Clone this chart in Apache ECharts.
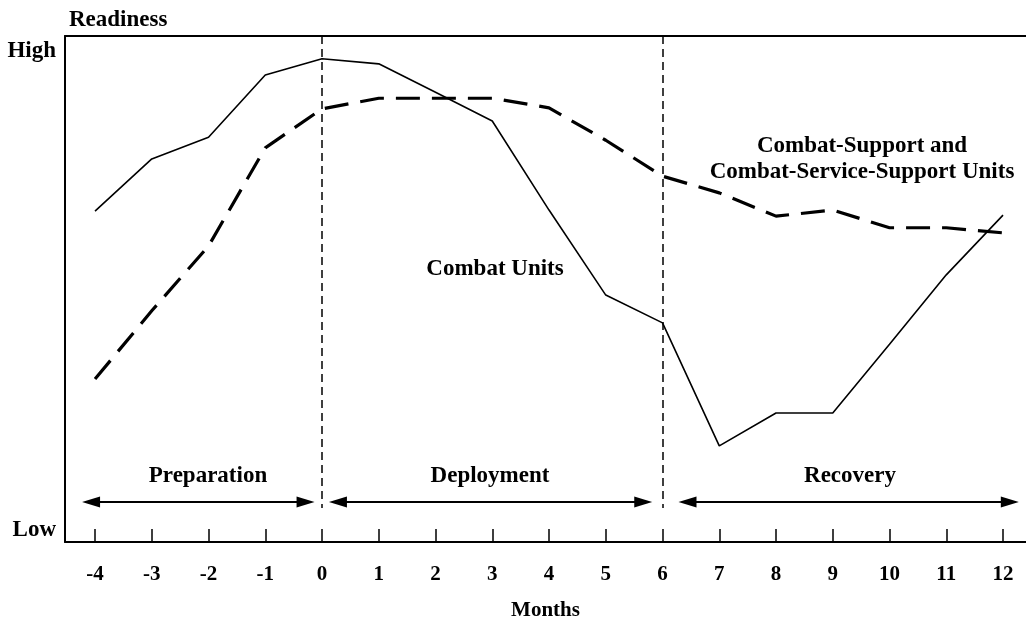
<!DOCTYPE html>
<html>
<head>
<meta charset="utf-8">
<script src="https://cdn.jsdelivr.net/npm/echarts@6/dist/echarts.min.js"></script>
<style>
html,body{margin:0;padding:0;background:#fff;}
#c{width:1026px;height:620px;}
</style>
</head>
<body>
<div id="c"></div>
<script>
const months = [-4, -3, -2, -1, 0, 1, 2, 3, 4, 5, 6, 7, 8, 9, 10, 11, 12];
const combatUnits = [65.4, 75.7, 80.0, 92.3, 95.5, 94.5, 88.9, 83.2, 65.6, 48.8, 43.3, 19.0, 25.5, 25.5, 39.1, 52.8, 64.6];
const supportUnits = [32.2, 45.7, 58.5, 77.9, 85.6, 87.7, 87.7, 87.7, 85.8, 79.4, 72.3, 69.0, 64.4, 65.6, 62.1, 62.1, 61.1];
const phaseBoundaries = [0, 6];
const phaseNames = ['Preparation', 'Deployment', 'Recovery'];
const phaseStart = [-4.07, 0.28, 6.44];
const phaseEnd = [-0.29, 5.66, 12.12];
const phaseLevel = 7.9;
const yLabelValues = [2.4, 97.0];
const yLabelTexts = ['Low', 'High'];

const FONT = '"Liberation Serif", "Times New Roman", serif';
const txt = (text, x, y, size, align) => ({
  type: 'text', x: x, y: y,
  style: { text: text, font: 'bold ' + size + 'px ' + FONT, fill: '#000',
           textAlign: align || 'center', textVerticalAlign: 'middle' }
});

const chart = echarts.init(document.getElementById('c'), null, {renderer: 'canvas'});

const arrowData = phaseNames.map((n, i) => [
  {coord: [phaseStart[i], phaseLevel]},
  {coord: [phaseEnd[i], phaseLevel]}
]);
const boundaryData = phaseBoundaries.map(b => [
  {coord: [b, 100]},
  {coord: [b, 6.7]}
]);

chart.setOption({
  animation: false,
  backgroundColor: '#fff',
  grid: {left: 65, right: 0, top: 36, bottom: 78, containLabel: false, outerBoundsMode: 'none'},
  xAxis: [{
    type: 'value', min: -4.529, max: 12.405,
    axisLine: {show: true, onZero: false, lineStyle: {color: '#000', width: 2}},
    axisTick: {show: true, inside: true, length: 13, customValues: months, lineStyle: {color: '#000', width: 1.5}},
    axisLabel: {show: true, customValues: months, margin: 22,
      fontFamily: FONT, fontWeight: 'bold', fontSize: 21, color: '#000'},
    splitLine: {show: false},
    name: 'Months', nameLocation: 'middle', nameGap: 58,
    nameTextStyle: {fontFamily: FONT, fontWeight: 'bold', fontSize: 21, color: '#000'}
  }, {
    type: 'value', position: 'top', min: -4.529, max: 12.405,
    axisLine: {show: true, onZero: false, lineStyle: {color: '#000', width: 2}},
    axisTick: {show: false}, axisLabel: {show: false}, splitLine: {show: false}
  }],
  yAxis: {
    type: 'value', min: 0, max: 100,
    axisLine: {show: true, onZero: false, lineStyle: {color: '#000', width: 2}},
    axisTick: {show: false},
    splitLine: {show: false},
    axisLabel: {show: true, customValues: yLabelValues, margin: 9,
      formatter: v => yLabelTexts[yLabelValues.indexOf(v)],
      fontFamily: FONT, fontWeight: 'bold', fontSize: 23, color: '#000'}
  },
  series: [{
    name: 'Combat Units', type: 'line',
    data: months.map((m, i) => [m, combatUnits[i]]),
    symbol: 'none',
    lineStyle: {color: '#000', width: 1.6},
    markLine: {
      silent: true, symbol: 'none', label: {show: false},
      lineStyle: {color: '#000', width: 1.5, type: [8, 5]},
      data: boundaryData
    }
  }, {
    name: 'Combat-Support and Combat-Service-Support Units', type: 'line',
    data: months.map((m, i) => [m, supportUnits[i]]),
    symbol: 'none',
    lineStyle: {color: '#000', width: 3.2, type: [24, 12]},
    markLine: {
      silent: true, symbol: ['triangle', 'triangle'], symbolSize: [11, 18],
      label: {show: false},
      lineStyle: {color: '#000', width: 2, type: 'solid'},
      data: arrowData
    }
  }],
  graphic: [
    txt('Readiness', 69, 20, 23, 'left'),
    txt('Preparation', 208, 476, 23),
    txt('Deployment', 490, 476, 23),
    txt('Recovery', 850, 476, 23),
    txt('Combat Units', 495, 269, 23),
    txt('Combat-Support and', 862, 146, 23),
    txt('Combat-Service-Support Units', 862, 172, 23)
  ]
});
</script>
</body>
</html>
